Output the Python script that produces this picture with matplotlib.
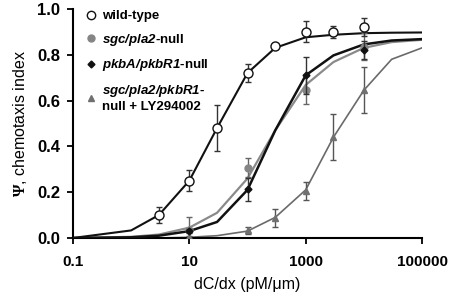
import matplotlib
matplotlib.use("Agg")
import matplotlib.pyplot as plt
from matplotlib.lines import Line2D

plt.rcParams['font.family'] = ['Liberation Sans', 'DejaVu Sans']
plt.rcParams['font.weight'] = 'bold'
plt.rcParams['mathtext.fontset'] = 'custom'
# rm -> bold italic sans for the gene names, sf -> serif for the Psi
plt.rcParams['mathtext.rm'] = 'Liberation Sans:italic:bold'
plt.rcParams['mathtext.sf'] = 'Liberation Serif'

# measured points
wt_x = [3, 10, 30, 100, 300, 1000, 3000, 10000]
wt_y = [0.10, 0.25, 0.48, 0.72, 0.84, 0.90, 0.90, 0.92]
wt_err = [0.035, 0.045, 0.10, 0.04, 0.01, 0.045, 0.025, 0.04]

sgc_x = [10, 100, 1000, 10000]
sgc_y = [0.036, 0.307, 0.645, 0.835]
sgc_err = [0.055, 0.04, 0.06, 0.06]

pkb_x = [10, 100, 1000, 10000]
pkb_y = [0.03, 0.213, 0.71, 0.82]
pkb_err = [0.01, 0.05, 0.08, 0.04]

ly_x = [10, 100, 300, 1000, 3000, 10000]
ly_y = [0.004, 0.033, 0.086, 0.206, 0.44, 0.645]
ly_err = [0.005, 0.015, 0.04, 0.04, 0.10, 0.10]

# fitted curves (as drawn)
fit_x = [0.1, 1, 3, 10, 30, 100, 300, 1000, 3000, 10000, 30000, 100000]
wt_fit = [0.0, 0.033, 0.10, 0.25, 0.48, 0.72, 0.83, 0.876, 0.887, 0.894, 0.896, 0.897]
sgc_fit = [0.0, 0.005, 0.015, 0.045, 0.11, 0.26, 0.47, 0.668, 0.768, 0.83, 0.855, 0.865]
pkb_fit = [0.0, 0.003, 0.01, 0.03, 0.07, 0.21, 0.47, 0.71, 0.797, 0.845, 0.862, 0.868]
ly_fit = [0.0, 0.0, 0.0, 0.003, 0.01, 0.03, 0.09, 0.21, 0.44, 0.645, 0.78, 0.83]

labels = ['wild-type',
          r'$\mathrm{sgc/pla2}$-null',
          r'$\mathrm{pkbA/pkbR1}$-null',
          '$\\mathrm{sgc/pla2/pkbR1}$-\nnull + LY294002']

fig = plt.figure(figsize=(4.5, 2.96), dpi=100)
ax = fig.add_axes([0.162, 0.196, 0.776, 0.774])

ax.plot(fit_x, ly_fit, color='#6a6a6a', lw=1.2, zorder=2)
ax.plot(fit_x, sgc_fit, color='#8a8a8a', lw=1.6, zorder=2)
ax.plot(fit_x, pkb_fit, color='#111111', lw=1.8, zorder=3)
ax.plot(fit_x, wt_fit, color='#111111', lw=1.5, zorder=4)

ax.errorbar(ly_x, ly_y, yerr=ly_err, fmt='^', ms=4.5, color='#707070',
            ecolor='#555555', elinewidth=1, capsize=2.5, zorder=5)
ax.errorbar(sgc_x, sgc_y, yerr=sgc_err, fmt='o', ms=5, color='#858585',
            ecolor='#666666', elinewidth=1, capsize=2.5, zorder=5)
ax.errorbar(pkb_x, pkb_y, yerr=pkb_err, fmt='D', ms=3.5, color='#111111',
            ecolor='#333333', elinewidth=1, capsize=2.5, zorder=6)
ax.errorbar(wt_x, wt_y, yerr=wt_err, fmt='o', ms=6.5, mfc='white',
            mec='#111111', mew=1, ecolor='#333333', elinewidth=1,
            capsize=2.5, zorder=7)

ax.set_xscale('log')
ax.set_xlim(0.1, 100000)
ax.set_ylim(0, 1.0)
ax.set_xticks([0.1, 10, 1000, 100000])
ax.set_xticklabels(['0.1', '10', '1000', '100000'])
ax.minorticks_off()
ax.set_yticks([0, 0.2, 0.4, 0.6, 0.8, 1.0])
ax.set_yticklabels(['0.0', '0.2', '0.4', '0.6', '0.8', '1.0'])
ax.tick_params(width=1.3, length=4, direction='out')
ax.tick_params(axis='x', labelsize=11, pad=8)
ax.tick_params(axis='y', labelsize=12, pad=5)
for s in ['top', 'right']:
    ax.spines[s].set_visible(False)
for s in ['left', 'bottom']:
    ax.spines[s].set_linewidth(1.5)

ax.set_xlabel('dC/dx (pM/\u03bcm)', fontsize=11.5, labelpad=6)
ax.set_ylabel('$\\mathsf{\\Psi}$, chemotaxis index', fontsize=11.5, labelpad=6)

handles = [
    Line2D([], [], ls='', marker='o', ms=6, mfc='white', mec='#111111', mew=1),
    Line2D([], [], ls='', marker='o', ms=5, color='#858585'),
    Line2D([], [], ls='', marker='D', ms=3.5, color='#111111'),
    Line2D([], [], ls='', marker='^', ms=5, color='#707070'),
]
ax.legend(handles, labels, loc='upper left', bbox_to_anchor=(0.015, 1.035),
          frameon=False, fontsize=9.5, handlelength=0.6, handletextpad=0.5,
          labelspacing=0.72, borderaxespad=0.3)

fig.savefig('out.png', dpi=100)
